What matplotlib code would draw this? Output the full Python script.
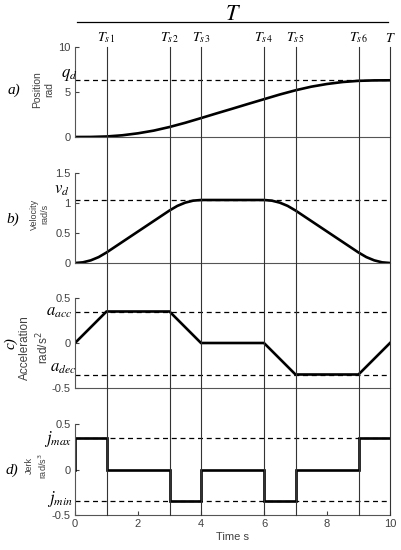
import matplotlib
matplotlib.use("Agg")
import matplotlib.pyplot as plt
from matplotlib.lines import Line2D
from matplotlib.transforms import blended_transform_factory

# switching instants
switch_times = [1, 3, 4, 6, 7, 9, 10]
switch_labels = [r"$T_{s\,1}$", r"$T_{s\,2}$", r"$T_{s\,3}$", r"$T_{s\,4}$",
                 r"$T_{s\,5}$", r"$T_{s\,6}$", r"$T$"]

# position (rad)
pos_t = [0, 0.5, 1, 1.5, 2, 2.5, 3, 3.5, 4, 4.5, 5, 5.5, 6, 6.5, 7, 7.5, 8,
         8.5, 9, 9.5, 10]
pos_v = [0, 0.007, 0.058, 0.19, 0.41, 0.71, 1.11, 1.58, 2.10, 2.63, 3.15,
         3.68, 4.20, 4.72, 5.19, 5.59, 5.89, 6.11, 6.24, 6.29, 6.30]
q_d = 6.3

# velocity (rad/s)
vel_t = [0, 0.25, 0.5, 0.75, 1, 3, 3.25, 3.5, 3.75, 4, 6, 6.25, 6.5, 6.75, 7,
         9, 9.25, 9.5, 9.75, 10]
vel_v = [0, 0.011, 0.044, 0.098, 0.175, 0.875, 0.952, 1.006, 1.039, 1.05,
         1.05, 1.039, 1.006, 0.952, 0.875, 0.175, 0.098, 0.044, 0.011, 0]
v_d = 1.05

# acceleration (rad/s^2)
acc_t = [0, 1, 3, 4, 6, 7, 9, 10]
acc_v = [0, 0.35, 0.35, 0, 0, -0.35, -0.35, 0]
a_acc = 0.35
a_dec = -0.35

# jerk (rad/s^3)
jerk_t = [0, 0, 1, 1, 3, 3, 4, 4, 6, 6, 7, 7, 9, 9, 10]
jerk_v = [0, 0.35, 0.35, 0, 0, -0.35, -0.35, 0, 0, -0.35, -0.35, 0, 0, 0.35, 0.35]
j_max = 0.35
j_min = -0.35

plt.rcParams["font.family"] = ["Liberation Sans", "DejaVu Sans"]

W, H = 401, 550
fig = plt.figure(figsize=(W / 100, H / 100), dpi=100)

serif = "Liberation Serif"
tick_col = "#404040"

def fx(px):
    return px / W

def fy(px):
    return 1 - px / H

left, right = 75, 390
panels = [(47, 137), (173, 263), (298, 388), (424, 515)]
axes = []
for top, bot in panels:
    ax = fig.add_axes([fx(left), fy(bot), fx(right - left), (bot - top) / H])
    ax.set_xlim(0, 10)
    ax.spines["top"].set_visible(False)
    ax.spines["right"].set_visible(False)
    for s in ("left", "bottom"):
        ax.spines[s].set_color("#555555")
        ax.spines[s].set_linewidth(0.8)
    ax.tick_params(direction="in", length=3, width=0.8, colors=tick_col,
                   labelsize=8, pad=3)
    ax.patch.set_alpha(0)
    axes.append(ax)

ax_a, ax_b, ax_c, ax_d = axes
for ax in (ax_a, ax_b, ax_c):
    ax.set_xticks([])

curve_kw = dict(color="black", lw=1.9, solid_joinstyle="miter")
dash_kw = dict(color="black", lw=0.9, ls=(0, (4, 3)))

# a) position
ax_a.set_ylim(0, 10)
ax_a.set_yticks([0, 5, 10])
ax_a.axhline(q_d, **dash_kw)
ax_a.plot(pos_t, pos_v, **curve_kw)

# b) velocity
ax_b.set_ylim(0, 1.5)
ax_b.set_yticks([0, 0.5, 1, 1.5])
ax_b.set_yticklabels(["0", "0.5", "1", "1.5"])
ax_b.axhline(v_d, **dash_kw)
ax_b.plot(vel_t, vel_v, **curve_kw)

# c) acceleration
ax_c.set_ylim(-0.5, 0.5)
ax_c.set_yticks([-0.5, 0, 0.5])
ax_c.set_yticklabels(["-0.5", "0", "0.5"])
ax_c.axhline(a_acc, **dash_kw)
ax_c.axhline(a_dec, **dash_kw)
ax_c.plot(acc_t, acc_v, **curve_kw)

# d) jerk
ax_d.set_ylim(-0.5, 0.5)
ax_d.set_yticks([-0.5, 0, 0.5])
ax_d.set_yticklabels(["-0.5", "0", "0.5"])
ax_d.set_xticks([0, 2, 4, 6, 8, 10])
ax_d.axhline(j_max, **dash_kw)
ax_d.axhline(j_min, **dash_kw)
ax_d.plot(jerk_t, jerk_v, **curve_kw)
ax_d.set_xlabel("Time s", fontsize=8, color=tick_col, labelpad=2)

# vertical switching lines through all panels
tr = blended_transform_factory(ax_d.transData, fig.transFigure)
for t, lab in zip(switch_times, switch_labels):
    fig.add_artist(Line2D([t, t], [fy(515), fy(47)], transform=tr,
                          color="#333333", lw=0.8))
    fig.text(t, fy(38), lab, transform=tr, ha="center", va="center",
             fontsize=10, math_fontfamily="stix")

# top T bar
fig.add_artist(Line2D([fx(77), fx(388)], [fy(22), fy(22)], color="black", lw=0.9))
fig.text(fx(233), fy(14), r"$T$", ha="center", va="center", fontsize=16,
         math_fontfamily="stix")

# level labels
lvl = dict(ha="center", va="center", fontsize=12, math_fontfamily="stix")
fig.text(fx(69), fy(75), r"$q_d$", **lvl)
fig.text(fx(62), fy(190), r"$v_d$", **lvl)
fig.text(fx(59), fy(312), r"$a_{acc}$", **lvl)
fig.text(fx(63), fy(368), r"$a_{dec}$", **lvl)
fig.text(fx(58), fy(439), r"$j_{max}$", **lvl)
fig.text(fx(60), fy(499), r"$j_{min}$", **lvl)

# panel letters
let = dict(ha="center", va="center", fontsize=11, family=serif, style="italic")
fig.text(fx(14), fy(90), "a)", **let)
fig.text(fx(13), fy(219), "b)", **let)
fig.text(fx(11), fy(343), "c)", rotation=90, **let)
fig.text(fx(12), fy(470), "d)", **let)

# y labels
yl = dict(ha="center", va="center", color=tick_col, rotation=90, linespacing=1.25)
fig.text(fx(43), fy(90), "Position\nrad", fontsize=7.5, **yl)
fig.text(fx(40), fy(214), "Velocity\nrad/s", fontsize=6.5, **yl)
fig.text(fx(35), fy(348), "Acceleration\nrad/s$^2$", fontsize=8.5, **yl)
fig.text(fx(37), fy(466), "Jerk\nrad/s$^3$", fontsize=6.5, **yl)

fig.savefig("out.png", dpi=100)
